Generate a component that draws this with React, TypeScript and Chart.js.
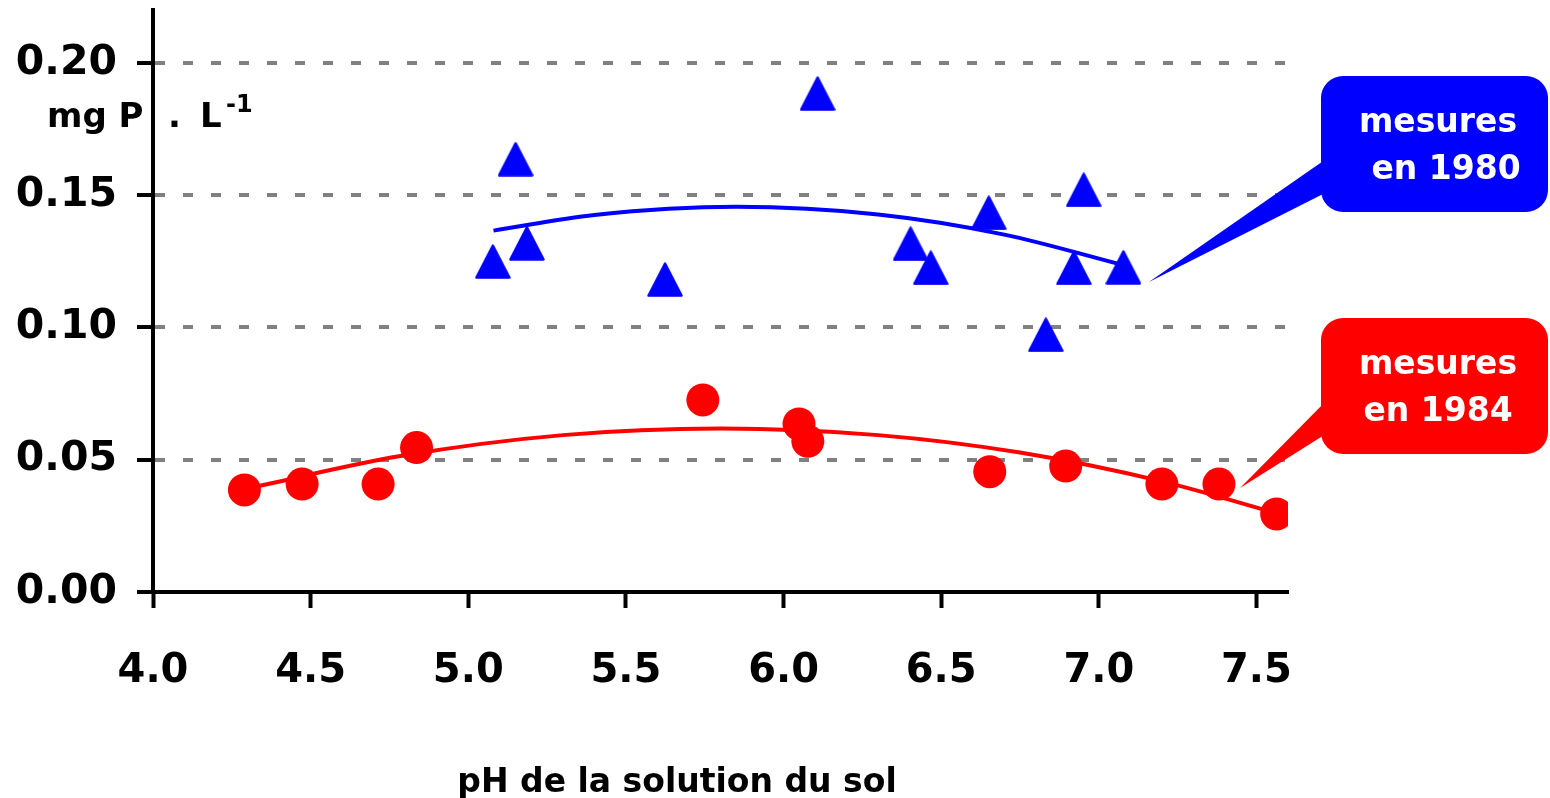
import React, { useEffect, useRef } from 'react';
import { Chart, registerables } from 'chart.js';

Chart.register(...registerables);

// Axis ticks
const phTicks = [4.0, 4.5, 5.0, 5.5, 6.0, 6.5, 7.0, 7.5];
const pTicks = [0, 0.05, 0.1, 0.15, 0.2];

// Measurements from 1980 (triangles)
const ph1980 = [5.078, 5.15, 5.186, 5.624, 6.108, 6.403, 6.467, 6.651, 6.832, 6.921, 6.952, 7.078];
const p1980 = [0.1249, 0.1636, 0.1318, 0.1181, 0.1884, 0.1316, 0.1225, 0.1433, 0.0972, 0.1225, 0.152, 0.1227];

// Measurements from 1984 (circles)
const ph1984 = [4.29, 4.473, 4.714, 4.836, 5.744, 6.049, 6.077, 6.654, 6.895, 7.2, 7.381, 7.564];
const p1984 = [0.0386, 0.0408, 0.0408, 0.0546, 0.0726, 0.0635, 0.057, 0.0455, 0.0476, 0.0408, 0.0408, 0.0295];

// Trend curves
const trendPh1980 = [5.08, 5.4, 5.85, 6.3, 6.7, 7.08];
const trendP1980 = [0.1366, 0.1425, 0.1456, 0.1427, 0.1351, 0.1235];
const trendPh1984 = [4.29, 4.78, 5.3, 5.8, 6.3, 6.75, 7.2, 7.565];
const trendP1984 = [0.0389, 0.0513, 0.0593, 0.0618, 0.0593, 0.0527, 0.0418, 0.0297];

// Callout labels and the point each one points at
const label1980 = ['mesures', 'en 1980'];
const label1984 = ['mesures', 'en 1984'];
const tip1980 = { x: 7.159, y: 0.1172 };
const tip1984 = { x: 7.448, y: 0.0393 };

const BLUE = '#0000FF';
const RED = '#FF0000';
const FONT = '"DejaVu Sans", sans-serif';

const toPoints = (xs: number[], ys: number[]) => xs.map((x, i) => ({ x, y: ys[i] }));

function makeTriangle(color: string): HTMLCanvasElement {
  const c = document.createElement('canvas');
  c.width = 36;
  c.height = 35;
  const g = c.getContext('2d')!;
  g.fillStyle = color;
  g.strokeStyle = color;
  g.lineWidth = 2.5;
  g.lineJoin = 'round';
  g.beginPath();
  g.moveTo(18, 1.5);
  g.lineTo(34.5, 33.5);
  g.lineTo(1.5, 33.5);
  g.closePath();
  g.fill();
  g.stroke();
  return c;
}

type Box = { x: number; y: number; w: number; h: number; r: number };

function drawCallout(
  ctx: CanvasRenderingContext2D,
  box: Box,
  tailTop: number,
  tailBottom: number,
  tip: { x: number; y: number },
  color: string,
  lines: string[],
  lineX: number[],
  baselines: number[]
) {
  const { x, y, w, h, r } = box;
  ctx.save();
  ctx.fillStyle = color;
  ctx.beginPath();
  ctx.moveTo(x + r, y);
  ctx.lineTo(x + w - r, y);
  ctx.arcTo(x + w, y, x + w, y + r, r);
  ctx.lineTo(x + w, y + h - r);
  ctx.arcTo(x + w, y + h, x + w - r, y + h, r);
  ctx.lineTo(x + r, y + h);
  ctx.arcTo(x, y + h, x, y + h - r, r);
  ctx.lineTo(x, y + r);
  ctx.arcTo(x, y, x + r, y, r);
  ctx.closePath();
  ctx.fill();
  ctx.beginPath();
  ctx.moveTo(x + 8, tailTop);
  ctx.lineTo(tip.x, tip.y);
  ctx.lineTo(x + 8, tailBottom);
  ctx.closePath();
  ctx.fill();
  ctx.fillStyle = '#FFFFFF';
  ctx.font = `bold 33px ${FONT}`;
  ctx.textAlign = 'center';
  ctx.textBaseline = 'alphabetic';
  lines.forEach((t, i) => ctx.fillText(t, lineX[i], baselines[i]));
  ctx.restore();
}

const annotations = {
  id: 'annotations',
  afterDraw(chart: Chart) {
    const ctx = chart.ctx;
    const xs = chart.scales.x;
    const ys = chart.scales.y;

    // Unit of the vertical axis
    ctx.save();
    ctx.fillStyle = '#000';
    ctx.textBaseline = 'alphabetic';
    ctx.textAlign = 'left';
    ctx.font = `bold 34px ${FONT}`;
    ctx.fillText('mg P', 47, 127);
    ctx.fillText('.', 168, 127);
    ctx.fillText('L', 200, 127);
    ctx.font = `bold 24px ${FONT}`;
    ctx.fillText('-1', 226, 112);

    // Title of the horizontal axis
    ctx.font = `bold 33px ${FONT}`;
    ctx.textAlign = 'center';
    ctx.fillText('pH de la solution du sol', 677, 792);
    ctx.restore();

    drawCallout(
      ctx,
      { x: 1321, y: 76, w: 227, h: 136, r: 22 },
      157,
      191,
      { x: xs.getPixelForValue(tip1980.x), y: ys.getPixelForValue(tip1980.y) },
      BLUE,
      label1980,
      [1438, 1446],
      [132, 179]
    );
    drawCallout(
      ctx,
      { x: 1321, y: 318, w: 227, h: 136, r: 22 },
      398,
      432,
      { x: xs.getPixelForValue(tip1984.x), y: ys.getPixelForValue(tip1984.y) },
      RED,
      label1984,
      [1438, 1438],
      [374, 421]
    );
  },
};

export default function App() {
  const canvasRef = useRef<HTMLCanvasElement | null>(null);

  useEffect(() => {
    const canvas = canvasRef.current;
    if (!canvas) return;
    Chart.defaults.font.family = FONT;

    const chart = new Chart(canvas, {
      type: 'scatter',
      data: {
        datasets: [
          {
            data: toPoints(ph1980, p1980),
            pointStyle: makeTriangle(BLUE),
            pointRadius: 17,
            pointHoverRadius: 17,
            backgroundColor: BLUE,
            borderWidth: 0,
            order: 0,
          },
          {
            data: toPoints(ph1984, p1984),
            pointStyle: 'circle',
            pointRadius: 16.5,
            pointHoverRadius: 16.5,
            backgroundColor: RED,
            borderWidth: 0,
            order: 0,
          },
          {
            data: toPoints(trendPh1980, trendP1980),
            showLine: true,
            pointRadius: 0,
            borderColor: BLUE,
            borderWidth: 4,
            cubicInterpolationMode: 'monotone',
            order: 1,
          },
          {
            data: toPoints(trendPh1984, trendP1984),
            showLine: true,
            pointRadius: 0,
            borderColor: RED,
            borderWidth: 4,
            cubicInterpolationMode: 'monotone',
            order: 1,
          },
        ],
      },
      options: {
        responsive: false,
        animation: false,
        devicePixelRatio: 1,
        layout: { autoPadding: false, padding: { left: 0, top: 10, right: 262, bottom: 0 } },
        plugins: { legend: { display: false }, tooltip: { enabled: false } },
        scales: {
          x: {
            type: 'linear',
            min: 4,
            max: 7.6,
            afterBuildTicks: (scale: any) => {
              scale.ticks = phTicks.map((v) => ({ value: v }));
            },
            afterFit: (scale: any) => {
              scale.height = 206;
              scale.paddingLeft = 0;
              scale.paddingRight = 0;
            },
            ticks: {
              autoSkip: false,
              maxRotation: 0,
              padding: 40,
              color: '#000',
              font: { size: 40, weight: 'bold', family: FONT },
              callback: (v: any) => Number(v).toFixed(1),
            },
            grid: {
              drawOnChartArea: false,
              drawTicks: true,
              tickLength: 16,
              tickColor: '#000',
              tickWidth: 4,
            },
            border: { display: true, color: '#000', width: 4 },
          },
          y: {
            type: 'linear',
            min: 0,
            max: 0.22,
            afterBuildTicks: (scale: any) => {
              scale.ticks = pTicks.map((v) => ({ value: v }));
            },
            afterFit: (scale: any) => {
              scale.width = 153;
              scale.paddingTop = 0;
              scale.paddingBottom = 0;
            },
            ticks: {
              padding: 20,
              color: '#000',
              font: { size: 41, weight: 'bold', family: FONT },
              callback: (v: any) => Number(v).toFixed(2),
            },
            grid: {
              drawOnChartArea: true,
              drawTicks: true,
              tickLength: 16,
              lineWidth: 4,
              color: (c: any) => (c.tick && c.tick.value === 0 ? 'rgba(0,0,0,0)' : '#808080'),
              tickColor: '#000',
              tickWidth: 4,
              tickBorderDash: [],
            },
            border: { display: true, color: '#000', width: 4, dash: [10, 18] },
          },
        },
      },
      plugins: [annotations],
    } as any);

    return () => chart.destroy();
  }, []);

  return (
    <div style={{ position: 'absolute', left: 0, top: 0, width: 1550, height: 798, background: '#fff' }}>
      <canvas ref={canvasRef} width={1550} height={798} style={{ display: 'block' }} />
    </div>
  );
}
